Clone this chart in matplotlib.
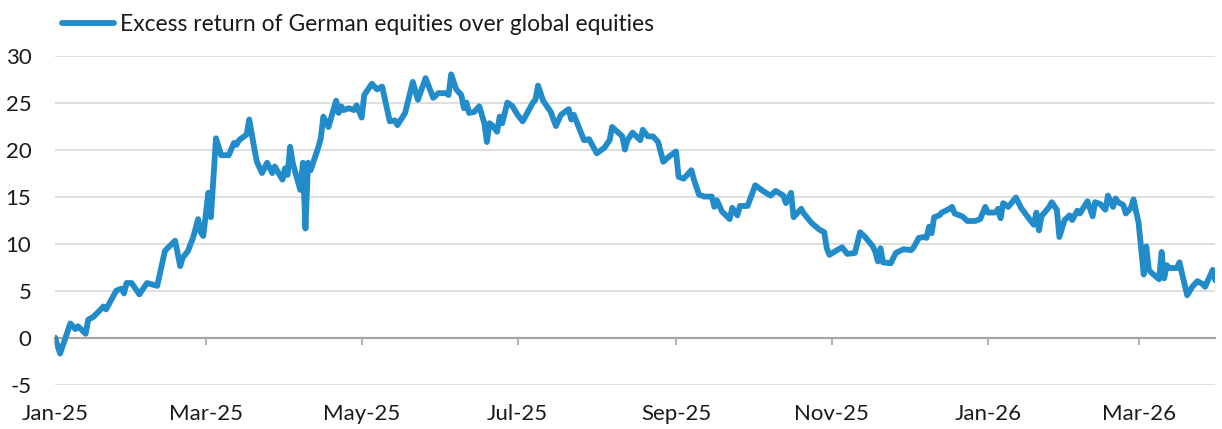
import numpy as np
import pandas as pd
import matplotlib
matplotlib.use('Agg')
import matplotlib.pyplot as plt
import matplotlib.dates as mdates

plt.rcParams['font.family'] = ['Lato', 'DejaVu Sans']
plt.rcParams['axes.unicode_minus'] = False

# ── 資料：德股相對全球股市的超額報酬（%）──────────────────────────────
DATES = [
    '2025-01-01', '2025-01-03', '2025-01-07', '2025-01-09', '2025-01-10', '2025-01-13',
    '2025-01-14', '2025-01-16', '2025-01-20', '2025-01-21', '2025-01-23', '2025-01-25',
    '2025-01-27', '2025-01-28', '2025-01-29', '2025-01-31', '2025-02-03', '2025-02-06',
    '2025-02-10', '2025-02-13', '2025-02-14', '2025-02-17', '2025-02-19', '2025-02-20',
    '2025-02-22', '2025-02-24', '2025-02-26', '2025-02-27', '2025-02-28', '2025-03-02',
    '2025-03-03', '2025-03-05', '2025-03-07', '2025-03-10', '2025-03-12', '2025-03-13',
    '2025-03-14', '2025-03-17', '2025-03-18', '2025-03-20', '2025-03-21', '2025-03-23',
    '2025-03-25', '2025-03-27', '2025-03-28', '2025-03-31', '2025-04-01', '2025-04-02',
    '2025-04-03', '2025-04-04', '2025-04-07', '2025-04-08', '2025-04-09', '2025-04-10',
    '2025-04-11', '2025-04-12', '2025-04-14', '2025-04-15', '2025-04-16', '2025-04-18',
    '2025-04-21', '2025-04-22', '2025-04-23', '2025-04-24', '2025-04-26', '2025-04-28',
    '2025-04-29', '2025-05-01', '2025-05-02', '2025-05-05', '2025-05-07', '2025-05-09',
    '2025-05-12', '2025-05-14', '2025-05-15', '2025-05-18', '2025-05-19', '2025-05-21',
    '2025-05-23', '2025-05-26', '2025-05-29', '2025-05-31', '2025-06-03', '2025-06-04',
    '2025-06-05', '2025-06-07', '2025-06-09', '2025-06-10', '2025-06-11', '2025-06-12',
    '2025-06-14', '2025-06-16', '2025-06-18', '2025-06-19', '2025-06-20', '2025-06-21',
    '2025-06-23', '2025-06-24', '2025-06-25', '2025-06-27', '2025-06-29', '2025-07-01',
    '2025-07-03', '2025-07-07', '2025-07-08', '2025-07-09', '2025-07-11', '2025-07-14',
    '2025-07-16', '2025-07-18', '2025-07-21', '2025-07-22', '2025-07-23', '2025-07-27',
    '2025-07-29', '2025-08-01', '2025-08-04', '2025-08-06', '2025-08-07', '2025-08-11',
    '2025-08-12', '2025-08-13', '2025-08-15', '2025-08-18', '2025-08-19', '2025-08-21',
    '2025-08-23', '2025-08-25', '2025-08-27', '2025-08-29', '2025-09-01', '2025-09-02',
    '2025-09-04', '2025-09-07', '2025-09-08', '2025-09-10', '2025-09-12', '2025-09-15',
    '2025-09-16', '2025-09-17', '2025-09-19', '2025-09-22', '2025-09-23', '2025-09-25',
    '2025-09-26', '2025-09-29', '2025-10-02', '2025-10-05', '2025-10-08', '2025-10-10',
    '2025-10-13', '2025-10-14', '2025-10-16', '2025-10-17', '2025-10-20', '2025-10-21',
    '2025-10-24', '2025-10-27', '2025-10-29', '2025-10-30', '2025-10-31', '2025-11-03',
    '2025-11-05', '2025-11-07', '2025-11-10', '2025-11-12', '2025-11-14', '2025-11-17',
    '2025-11-18', '2025-11-19', '2025-11-20', '2025-11-21', '2025-11-24', '2025-11-26',
    '2025-11-29', '2025-12-02', '2025-12-03', '2025-12-05', '2025-12-07', '2025-12-08',
    '2025-12-09', '2025-12-10', '2025-12-11', '2025-12-13', '2025-12-14', '2025-12-17',
    '2025-12-18', '2025-12-19', '2025-12-22', '2025-12-24', '2025-12-27', '2025-12-29',
    '2025-12-31', '2026-01-01', '2026-01-04', '2026-01-05', '2026-01-06', '2026-01-07',
    '2026-01-09', '2026-01-12', '2026-01-14', '2026-01-17', '2026-01-19', '2026-01-20',
    '2026-01-21', '2026-01-22', '2026-01-25', '2026-01-26', '2026-01-28', '2026-01-29',
    '2026-01-31', '2026-02-02', '2026-02-03', '2026-02-05', '2026-02-06', '2026-02-09',
    '2026-02-11', '2026-02-12', '2026-02-14', '2026-02-16', '2026-02-17', '2026-02-19',
    '2026-02-20', '2026-02-21', '2026-02-23', '2026-02-24', '2026-02-26', '2026-02-27',
    '2026-03-01', '2026-03-03', '2026-03-04', '2026-03-05', '2026-03-06', '2026-03-09',
    '2026-03-10', '2026-03-11', '2026-03-12', '2026-03-13', '2026-03-16', '2026-03-17',
    '2026-03-18', '2026-03-20', '2026-03-22', '2026-03-24', '2026-03-26', '2026-03-27',
    '2026-03-30', '2026-03-31',
]

EXCESS_RETURN = [
    0.1, -1.6, 1.6, 1.0, 1.3, 0.5,
    2.0, 2.3, 3.4, 3.1, 4.1, 5.1,
    5.3, 4.8, 5.9, 5.9, 4.7, 5.9,
    5.6, 9.3, 9.6, 10.4, 7.7, 8.6,
    9.3, 10.7, 12.7, 11.3, 10.9, 15.5,
    12.9, 21.3, 19.5, 19.5, 20.8, 20.6,
    21.1, 21.7, 23.3, 20.2, 18.8, 17.6,
    18.7, 17.6, 18.3, 16.9, 18.1, 17.4,
    20.4, 18.7, 15.8, 18.7, 11.7, 18.7,
    17.9, 18.7, 20.3, 21.3, 23.6, 22.5,
    25.3, 24.0, 24.7, 24.3, 24.5, 24.3,
    24.8, 23.5, 25.9, 27.1, 26.5, 26.8,
    23.1, 23.2, 22.7, 24.0, 25.1, 27.3,
    25.4, 27.7, 25.6, 26.1, 26.1, 25.9,
    28.1, 26.5, 25.9, 24.5, 25.1, 24.0,
    24.1, 24.7, 22.9, 20.9, 22.9, 22.7,
    22.0, 23.6, 22.9, 25.1, 24.7, 23.8,
    23.1, 25.1, 25.4, 26.9, 25.3, 24.1,
    22.6, 23.8, 24.4, 23.3, 23.8, 21.1,
    21.2, 19.7, 20.3, 21.1, 22.5, 21.5,
    20.1, 21.1, 21.9, 21.1, 22.2, 21.5,
    21.5, 20.9, 18.8, 19.3, 19.9, 17.2,
    17.0, 17.9, 16.9, 15.3, 15.1, 15.1,
    14.0, 14.7, 13.5, 12.7, 13.9, 13.1,
    14.1, 14.1, 16.3, 15.7, 15.2, 15.7,
    15.2, 14.4, 15.5, 12.9, 13.8, 13.3,
    12.3, 11.6, 11.3, 9.6, 8.9, 9.4,
    9.7, 9.0, 9.1, 11.3, 10.8, 9.8,
    9.2, 8.2, 9.6, 8.1, 8.0, 9.1,
    9.5, 9.4, 9.7, 10.7, 10.8, 10.7,
    11.9, 11.2, 12.9, 13.1, 13.4, 13.8,
    14.0, 13.3, 13.0, 12.5, 12.5, 12.7,
    14.0, 13.4, 13.4, 13.8, 12.8, 14.4,
    14.0, 15.0, 13.9, 12.8, 12.1, 13.4,
    11.5, 13.0, 14.0, 14.5, 13.7, 10.8,
    12.6, 13.1, 12.6, 13.6, 13.3, 14.6,
    13.0, 14.5, 14.3, 13.7, 15.2, 14.0,
    14.9, 14.5, 14.2, 13.3, 13.9, 14.8,
    12.3, 6.8, 9.8, 7.3, 7.0, 6.3,
    9.2, 6.4, 7.8, 7.5, 7.5, 8.1,
    6.9, 4.6, 5.5, 6.1, 5.8, 5.5,
    7.3, 6.2,
]

SERIES_LABEL = 'Excess return of German equities over global equities'
Y_TICKS = [-5, 0, 5, 10, 15, 20, 25, 30]
X_START, X_END = '2025-01-01', '2026-03-31'

LINE_COLOR = '#228BC9'
GRID_COLOR = '#D9D9D9'
AXIS_COLOR = '#A6A6A6'
TEXT_COLOR = '#1A1A1A'


def main():
    dates = pd.to_datetime(DATES)
    vals = np.array(EXCESS_RETURN)

    fig = plt.figure(figsize=(12.22, 4.29), dpi=100, facecolor='white')
    ax = fig.add_axes([0.045, 0.1014, 0.9495, 0.7669])

    ax.plot(dates, vals, color=LINE_COLOR, lw=4.2, solid_joinstyle='round',
            solid_capstyle='round', label=SERIES_LABEL, zorder=3)

    # 軸範圍與格線
    ax.set_xlim(pd.Timestamp(X_START), pd.Timestamp(X_END))
    ax.set_ylim(-5, 30)
    ax.set_yticks(Y_TICKS)
    ax.yaxis.grid(True, color=GRID_COLOR, lw=1.2)
    ax.set_axisbelow(True)

    # x 軸：線在 0，標籤放在底部
    for s in ('top', 'right', 'left'):
        ax.spines[s].set_visible(False)
    ax.spines['bottom'].set_position(('data', 0))
    ax.spines['bottom'].set_color(AXIS_COLOR)
    ax.spines['bottom'].set_linewidth(1.6)
    ax.spines['bottom'].set_zorder(2)

    ax.xaxis.set_major_locator(mdates.MonthLocator(bymonth=[1, 3, 5, 7, 9, 11]))
    ax.xaxis.set_major_formatter(mdates.DateFormatter('%b-%y'))
    ax.tick_params(axis='x', direction='out', length=5, width=1.2,
                   color=AXIS_COLOR, pad=42, labelsize=16, labelcolor=TEXT_COLOR)
    ax.tick_params(axis='y', length=0, pad=17, labelsize=16, labelcolor=TEXT_COLOR)

    fig.legend(loc='upper left', bbox_to_anchor=(0.043, 0.988), frameon=False,
               fontsize=16.4, handlelength=2.3, handletextpad=0.25,
               borderaxespad=0, labelcolor=TEXT_COLOR)

    fig.savefig('out.png', dpi=100, facecolor='white')


if __name__ == '__main__':
    main()
